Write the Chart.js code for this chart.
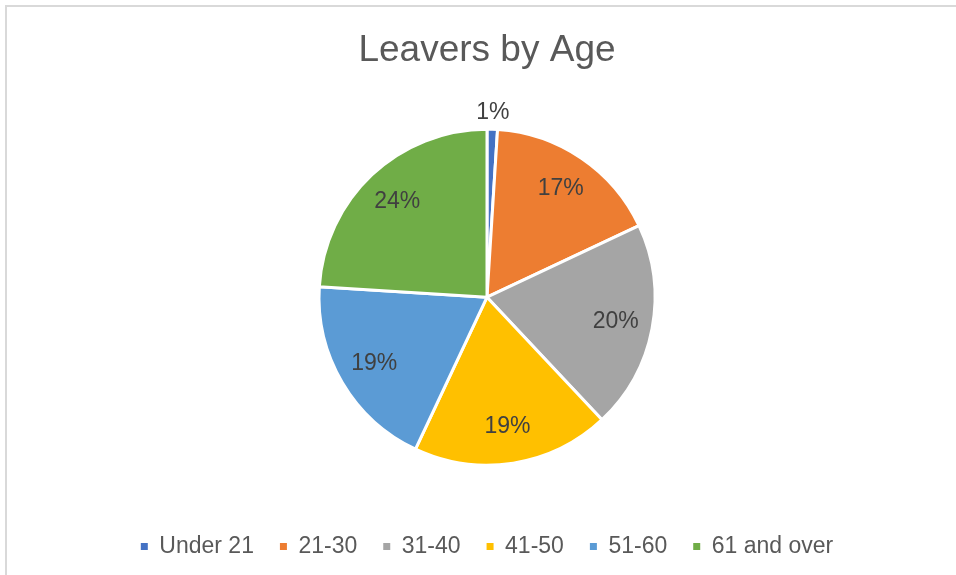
<!DOCTYPE html>
<html lang="en">

<head>
    <meta charset="UTF-8">
    <meta name="viewport" content="width=device-width, initial-scale=1.0">
    <title>Leavers by Age</title>
    <script src="https://cdn.jsdelivr.net/npm/chart.js"></script>
    <style>
        html,
        body {
            margin: 0;
            padding: 0;
            background: #ffffff;
            overflow: hidden;
        }

        .frame {
            position: absolute;
            left: 5px;
            top: 5px;
            width: 2000px;
            height: 2000px;
            border-left: 2px solid #d9d9d9;
            border-top: 2px solid #d9d9d9;
        }

        .chart-box {
            position: absolute;
            left: 0;
            top: 0;
            width: 956px;
            height: 568px;
        }
    </style>
</head>

<body>

    <div class="frame"></div>
    <div class="chart-box">
        <canvas id="age-chart"></canvas>
    </div>

    <script>
        const ageGroups = ['Under 21', '21-30', '31-40', '41-50', '51-60', '61 and over'];
        const leaverShares = [1, 17, 20, 19, 19, 24];
        const sliceColors = ['#4472C4', '#ED7D31', '#A5A5A5', '#FFC000', '#5B9BD5', '#70AD47'];

        const fontFamily = '"Liberation Sans", Arial, Helvetica, sans-serif';
        const textColor = '#595959';

        // percentage labels inside each slice, tiny slices get pushed outside
        const sliceLabels = {
            id: 'sliceLabels',
            afterDatasetsDraw(chart) {
                const ctx = chart.ctx;
                const meta = chart.getDatasetMeta(0);
                const total = leaverShares.reduce((a, b) => a + b, 0);

                ctx.save();
                ctx.font = '23px ' + fontFamily;
                ctx.fillStyle = '#404040';
                ctx.textAlign = 'center';
                ctx.textBaseline = 'middle';

                meta.data.forEach((arc, i) => {
                    const p = arc.getProps(['x', 'y', 'startAngle', 'endAngle', 'outerRadius'], true);
                    const mid = (p.startAngle + p.endAngle) / 2;
                    const share = leaverShares[i] / total;
                    const r = share < 0.05 ? p.outerRadius * 1.1 : p.outerRadius * 0.78;
                    const x = p.x + Math.cos(mid) * r;
                    const y = p.y + Math.sin(mid) * r;
                    ctx.fillText(leaverShares[i] + '%', x, y);
                });

                ctx.restore();
            }
        };

        document.addEventListener('DOMContentLoaded', function () {
            const ctx = document.getElementById('age-chart').getContext('2d');

            new Chart(ctx, {
                type: 'pie',
                data: {
                    labels: ageGroups,
                    datasets: [{
                        label: 'Leavers',
                        data: leaverShares,
                        backgroundColor: sliceColors,
                        borderColor: '#ffffff',
                        borderWidth: 3,
                        radius: 168
                    }]
                },
                options: {
                    responsive: true,
                    maintainAspectRatio: false,
                    animation: false,
                    events: [],
                    layout: {
                        padding: { left: 18, right: 0, top: 0, bottom: 0 }
                    },
                    plugins: {
                        title: {
                            display: true,
                            text: 'Leavers by Age',
                            color: textColor,
                            font: { family: fontFamily, size: 37, weight: 'normal', lineHeight: 1.2 },
                            padding: { top: 29, bottom: 12 }
                        },
                        legend: {
                            position: 'bottom',
                            labels: {
                                color: textColor,
                                font: { family: fontFamily, size: 23 },
                                boxWidth: 7,
                                boxHeight: 7,
                                padding: 26,
                                generateLabels(chart) {
                                    return ageGroups.map((name, i) => ({
                                        text: name,
                                        fillStyle: sliceColors[i],
                                        strokeStyle: sliceColors[i],
                                        lineWidth: 0,
                                        fontColor: textColor,
                                        hidden: false,
                                        index: i
                                    }));
                                }
                            }
                        },
                        tooltip: { enabled: false }
                    }
                },
                plugins: [sliceLabels]
            });
        });
    </script>

</body>

</html>
